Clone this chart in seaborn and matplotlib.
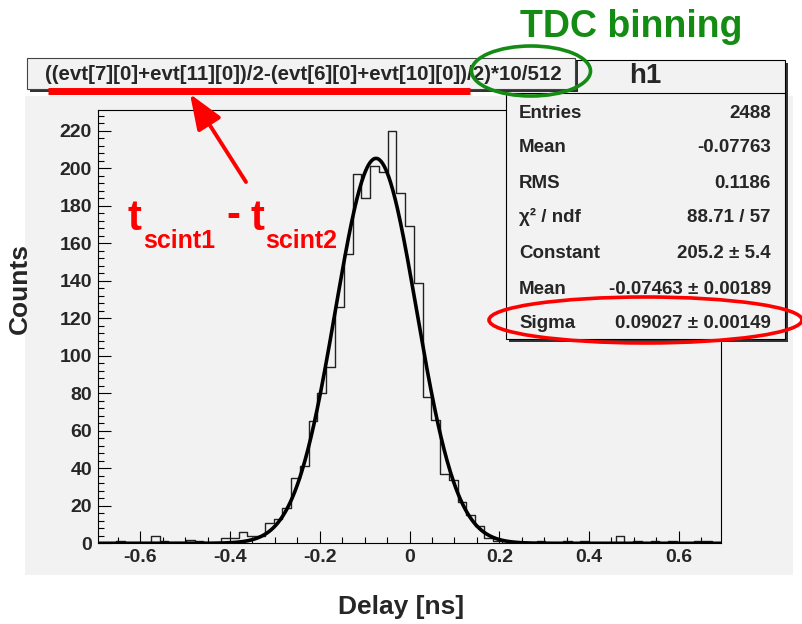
import numpy as np
import pandas as pd
import seaborn as sns
import matplotlib.pyplot as plt
from matplotlib import font_manager
from matplotlib.patches import Rectangle, Ellipse, FancyArrowPatch
from matplotlib.lines import Line2D
from matplotlib.ticker import MultipleLocator

# --- data ---
tdc_step = 10 / 512                 # one TDC channel in ns
bin_index = list(range(-35, 36))    # bin centres = index * tdc_step
counts = [0, 0, 1, 0, 0, 0, 4, 1, 0, 0,
          2, 1, 0, 0, 3, 3, 6, 4, 4, 11,
          13, 19, 35, 41, 65, 80, 94, 126, 154, 197,
          184, 201, 198, 220, 187, 169, 139, 78, 66, 37,
          34, 22, 15, 9, 3, 1, 0, 0, 0, 0,
          1, 0, 0, 1, 0, 1, 0, 0, 0, 4,
          0, 1, 0, 1, 0, 1, 0, 0, 1, 1,
          0]

# gaussian fit parameters (from the stats box)
fit_const = 205.2
fit_mean = -0.07463
fit_sigma = 0.09027

stat_labels = ["Entries", "Mean", "RMS", "χ² / ndf", "Constant", "Mean", "Sigma"]
stat_values = ["2488", "-0.07763", "0.1186", "88.71 / 57", "205.2 ± 5.4",
               "-0.07463 ± 0.00189", "0.09027 ± 0.00149"]
title_text = "((evt[7][0]+evt[11][0])/2-(evt[6][0]+evt[10][0])/2)*10/512"
x_ticks = [-0.6, -0.4, -0.2, 0, 0.2, 0.4, 0.6]
x_ticklabels = ["-0.6", "-0.4", "-0.2", "0", "0.2", "0.4", "0.6"]
y_ticks = list(range(0, 221, 20))

W, H = 803, 624
GRAY = "#f2f2f2"
RED = "#ff0000"
GREEN = "#148c14"


def fx(x):
    return x / W


def fy(y):
    return 1 - y / H


def box(x0, y0, x1, y1, **kw):
    return Rectangle((fx(x0), fy(y1)), fx(x1) - fx(x0), fy(y0) - fy(y1),
                     transform=fig.transFigure, **kw)


sns.set_style("ticks")
plt.rcParams["font.family"] = ["Liberation Sans", "DejaVu Sans"]
plt.rcParams["font.weight"] = "bold"

fig = plt.figure(figsize=(W / 100, H / 100), dpi=100)
fig.patch.set_facecolor("white")
fig.add_artist(box(25, 96, 793, 575, facecolor=GRAY, edgecolor="none", zorder=-1))

ax = fig.add_axes([fx(98.3), fy(543.3), fx(720.7) - fx(98.3), fy(110) - fy(543.3)])
ax.set_facecolor(GRAY)

centres = np.array(bin_index) * tdc_step
lo = (bin_index[0] - 0.5) * tdc_step
hi = (bin_index[-1] + 0.5) * tdc_step
df = pd.DataFrame({"delay": centres, "counts": counts})
sns.histplot(data=df, x="delay", weights="counts", binwidth=tdc_step, binrange=(lo, hi),
             element="step", fill=False, color="#222222", linewidth=1.0, ax=ax)

xs = np.linspace(lo, hi, 800)
fit_df = pd.DataFrame({"delay": xs,
                       "fit": fit_const * np.exp(-0.5 * ((xs - fit_mean) / fit_sigma) ** 2)})
sns.lineplot(data=fit_df, x="delay", y="fit", color="black", linewidth=2.6, ax=ax)

ax.set_xlim(lo, hi)
ax.set_ylim(0, 1.05 * max(counts))
ax.set_xticks(x_ticks, x_ticklabels)
ax.set_yticks(y_ticks)
ax.xaxis.set_minor_locator(MultipleLocator(0.05))
ax.yaxis.set_minor_locator(MultipleLocator(4))
ax.tick_params(which="both", direction="in", top=False, right=False,
               width=0.8, color="black", labelsize=14)
ax.tick_params(which="major", length=9)
ax.tick_params(which="minor", length=4.5)
ax.tick_params(axis="x", pad=4)
ax.tick_params(axis="y", pad=4.5)
for s in ax.spines.values():
    s.set_linewidth(0.8)
    s.set_color("black")
ax.set_xlabel("")
ax.set_ylabel("")

fig.text(fx(401), fy(607), "Delay [ns]", ha="center", va="center", fontsize=19)
fig.text(fx(20), fy(288), "Counts", ha="center", va="center", rotation=90, fontsize=19)

# stats box
fig.add_artist(box(509, 63, 788, 342, facecolor="#333333", edgecolor="none", zorder=5))
fig.add_artist(box(506, 60, 785, 339, facecolor=GRAY, edgecolor="black", linewidth=0.8, zorder=5))
fig.add_artist(Line2D([fx(506), fx(785)], [fy(93), fy(93)], color="black",
                      linewidth=0.8, transform=fig.transFigure, zorder=5))
fig.text(fx(645), fy(76), "h1", ha="center", va="center", fontsize=20, zorder=7)
row_y = [113, 148, 183, 217, 254, 289, 323]
for lab, val, yy in zip(stat_labels, stat_values, row_y):
    fig.text(fx(519), fy(yy), lab, ha="left", va="center", fontsize=13.5, zorder=7)
    fig.text(fx(771), fy(yy), val, ha="right", va="center", fontsize=13.5, zorder=7)

# title box
fig.add_artist(box(30, 61, 578, 92, facecolor="#333333", edgecolor="none", zorder=6))
fig.add_artist(box(27, 58, 575, 89, facecolor=GRAY, edgecolor="#444444", linewidth=0.8, zorder=6))
try:
    font_manager.findfont("Liberation Sans Narrow", fallback_to_default=False)
    title_family = ["Liberation Sans Narrow", "DejaVu Sans"]
except ValueError:
    title_family = ["Liberation Sans", "DejaVu Sans"]
ttl = fig.text(fx(303), fy(74), title_text, ha="center", va="center",
               fontsize=15, family=title_family, zorder=7)
fig.canvas.draw()
tw = ttl.get_window_extent(fig.canvas.get_renderer()).width
ttl.set_fontsize(15 * 520 / tw)

# annotations
fig.text(fx(631), fy(27), "TDC binning", ha="center", va="center",
         fontsize=27, color=GREEN, zorder=8)
fig.add_artist(Ellipse((fx(531), fy(71)), fx(119), 50 / H, transform=fig.transFigure,
                       fill=False, edgecolor=GREEN, linewidth=2.6, zorder=8))
fig.add_artist(Ellipse((fx(645.5), fy(320)), fx(313), 46 / H, transform=fig.transFigure,
                       fill=False, edgecolor=RED, linewidth=2.6, zorder=8))
fig.add_artist(Line2D([fx(48), fx(470)], [fy(91), fy(91)], color=RED, linewidth=5,
                      solid_capstyle="butt", transform=fig.transFigure, zorder=8))
fig.add_artist(FancyArrowPatch((fx(246), fy(182)), (fx(190), fy(94)),
                               transform=fig.transFigure,
                               arrowstyle="-|>,head_length=1.08,head_width=0.42",
                               mutation_scale=20, color=RED, linewidth=2.8,
                               shrinkA=0, shrinkB=0, zorder=8))
fig.text(fx(128), fy(230), "t", ha="left", va="baseline", fontsize=30, color=RED)
fig.text(fx(143), fy(248), "scint1", ha="left", va="baseline", fontsize=18, color=RED)
fig.text(fx(233), fy(216), "-", ha="center", va="center", fontsize=30, color=RED)
fig.text(fx(251), fy(230), "t", ha="left", va="baseline", fontsize=30, color=RED)
fig.text(fx(265), fy(248), "scint2", ha="left", va="baseline", fontsize=18, color=RED)

fig.savefig("out.png", dpi=100)
